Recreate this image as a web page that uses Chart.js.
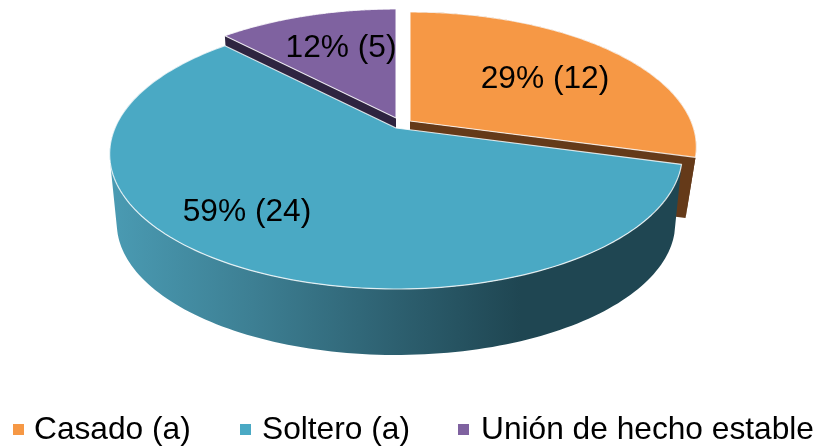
<!DOCTYPE html>
<html>
<head>
<meta charset="utf-8">
<style>html,body{margin:0;padding:0;background:#fff}canvas{display:block}</style>
<script src="https://cdn.jsdelivr.net/npm/chart.js@4"></script>
</head>
<body>
<canvas id="c" width="820" height="447"></canvas>
<script>
const categories = ['Casado (a)', 'Soltero (a)', 'Unión de hecho estable'];
const counts = [12, 24, 5];
const sliceLabels = ['29% (12)', '59% (24)', '12% (5)'];
const topColors = ['#F69845', '#4AA9C4', '#7F62A0'];
const wallColors = ['#653A19', '#1F4652', '#2E2440'];

const geom = {x0: 396, y0: 128, A: 281, B: 130, k: 0.1926};
const offsets = [[14, -7], [0, 0], [0, -10]];
const depths = [62, 70, 70];
const shrinks = [0.965, 0.975, 0.975];
const labelAt = [[545, 79], [247, 212], [341, 48]];
const legendAt = [[13, 34], [240, 262], [458, 481]];
const FONT = '31.7px "Liberation Sans", Arial, sans-serif';

function project(theta, i, low) {
  const X = Math.sin(theta), Y = -Math.cos(theta), w = 1 - geom.k * Y;
  const s = low ? shrinks[i] : 1;
  return [
    geom.x0 + offsets[i][0] + s * geom.A * X / w,
    geom.y0 + offsets[i][1] + (low ? depths[i] : 0) + s * geom.B * Y / w
  ];
}
function apex(i, low) {
  return [geom.x0 + offsets[i][0], geom.y0 + offsets[i][1] + (low ? depths[i] : 0)];
}
function arcPts(a, b, i, low) {
  const pts = [], n = 160;
  for (let t = 0; t <= n; t++) pts.push(project(a + (b - a) * t / n, i, low));
  return pts;
}
function poly(ctx, pts) {
  ctx.beginPath();
  pts.forEach((p, j) => j ? ctx.lineTo(p[0], p[1]) : ctx.moveTo(p[0], p[1]));
  ctx.closePath();
}
function rim(ctx, a, b, i, paint) {
  const up = arcPts(a, b, i, false), low = arcPts(a, b, i, true);
  ctx.beginPath();
  for (let j = 0; j < up.length - 1; j++) {
    let q = [up[j], up[j + 1], low[j + 1], low[j]];
    let area = 0;
    q.forEach((p, m) => { const n = q[(m + 1) % 4]; area += p[0] * n[1] - n[0] * p[1]; });
    if (area < 0) q = q.reverse();
    q.forEach((p, m) => m ? ctx.lineTo(p[0], p[1]) : ctx.moveTo(p[0], p[1]));
    ctx.closePath();
  }
  ctx.fillStyle = paint;
  ctx.fill('nonzero');
}

const pie3d = {
  id: 'pie3d',
  afterDatasetsDraw(chart) {
    const ctx = chart.ctx;
    const arcs = chart.getDatasetMeta(0).data;
    const ang = arcs.map(e => [e.startAngle + Math.PI / 2, e.endAngle + Math.PI / 2]);
    ctx.save();

    // Casado: rim and cut wall
    rim(ctx, ang[0][0], ang[0][1], 0, wallColors[0]);
    poly(ctx, [apex(0, false), project(ang[0][1], 0, false), project(ang[0][1], 0, true), apex(0, true)]);
    ctx.fillStyle = wallColors[0]; ctx.fill();

    // Unión: cut wall
    poly(ctx, [apex(2, false), project(ang[2][0], 2, false), project(ang[2][0], 2, true), apex(2, true)]);
    ctx.fillStyle = wallColors[2]; ctx.fill();

    // Soltero: shaded rim
    const g = ctx.createLinearGradient(110, 0, 680, 0);
    g.addColorStop(0, '#4A9BB3');
    g.addColorStop(0.25, '#3D7F93');
    g.addColorStop(0.5, '#2D6070');
    g.addColorStop(0.72, '#1F4652');
    g.addColorStop(1, '#1F4652');
    rim(ctx, ang[1][0], ang[1][1], 1, g);

    // Top faces
    [1, 2, 0].forEach(i => {
      poly(ctx, [apex(i, false)].concat(arcPts(ang[i][0], ang[i][1], i, false)));
      ctx.fillStyle = topColors[i]; ctx.fill();
      ctx.strokeStyle = 'rgba(255,255,255,0.8)';
      ctx.lineWidth = 1.2; ctx.lineJoin = 'round';
      ctx.stroke();
    });

    // Slice labels
    ctx.fillStyle = '#000'; ctx.font = FONT;
    ctx.textAlign = 'center'; ctx.textBaseline = 'middle';
    sliceLabels.forEach((t, i) => ctx.fillText(t, labelAt[i][0], labelAt[i][1]));

    // Legend
    ctx.textAlign = 'left'; ctx.textBaseline = 'alphabetic';
    chart.data.labels.forEach((t, i) => {
      ctx.fillStyle = topColors[i];
      ctx.fillRect(legendAt[i][0], 424, 11, 11);
      ctx.fillStyle = '#000';
      ctx.fillText(t, legendAt[i][1], 439);
    });
    ctx.restore();
  }
};

new Chart(document.getElementById('c'), {
  type: 'pie',
  data: {
    labels: categories,
    datasets: [{data: counts, backgroundColor: 'rgba(0,0,0,0)', borderWidth: 0}]
  },
  options: {
    responsive: false,
    animation: false,
    plugins: {legend: {display: false}, tooltip: {enabled: false}}
  },
  plugins: [pie3d]
});
</script>
</body>
</html>
